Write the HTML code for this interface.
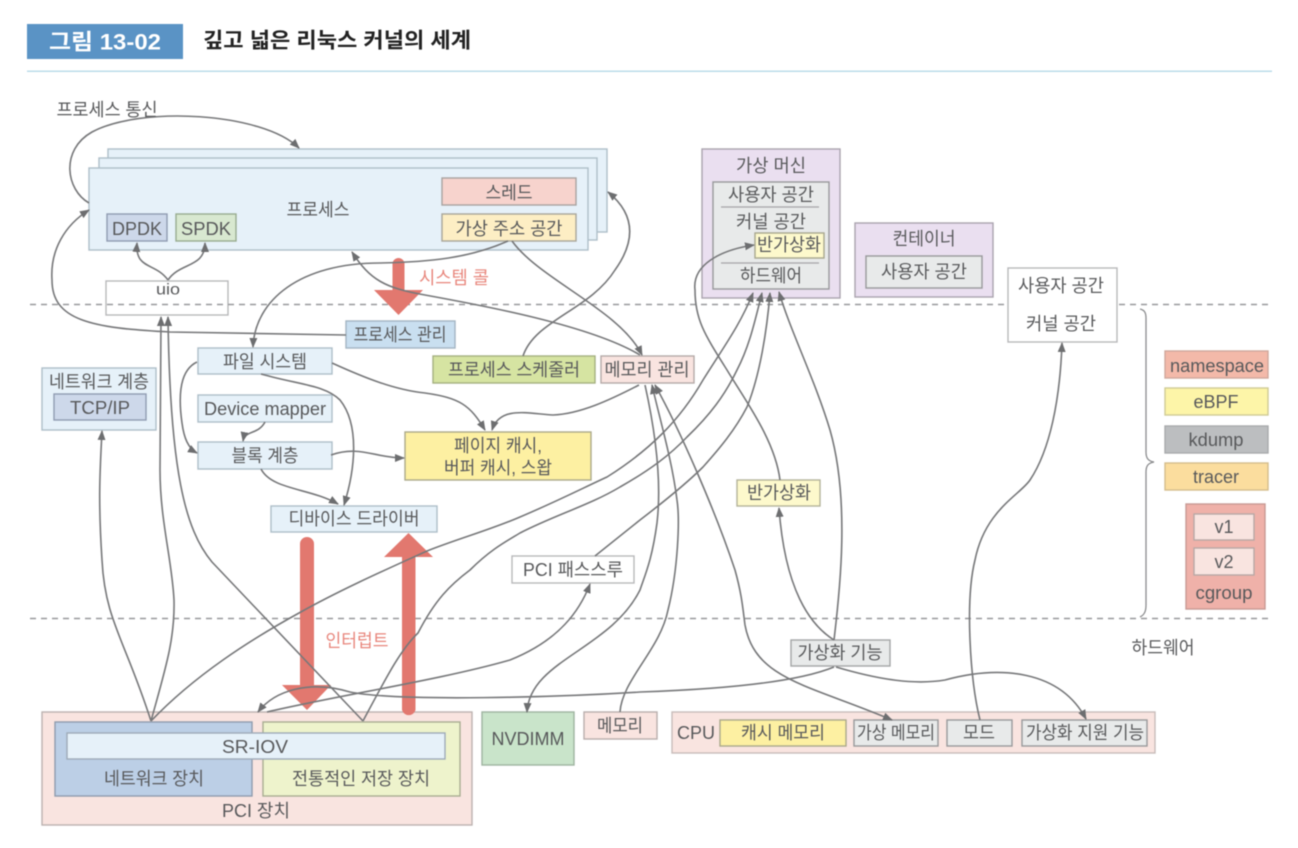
<!DOCTYPE html>
<html lang="ko"><head><meta charset="utf-8"><title>그림 13-02</title>
<style>
html,body{margin:0;padding:0;background:#fff}
svg{display:block;filter:blur(0.4px)}
text{font-family:"Liberation Sans","Noto Sans CJK KR",sans-serif;font-size:18px;fill:#58595b;text-anchor:middle;dominant-baseline:central}
.c path,path.c{fill:none;stroke:#77787a;stroke-width:1.6}
rect{stroke-width:1.4}
</style></head><body>
<svg width="1298" height="848" viewBox="0 0 1298 848" xmlns="http://www.w3.org/2000/svg">
<defs>
<marker id="a" markerUnits="userSpaceOnUse" markerWidth="11" markerHeight="11" refX="9" refY="5" orient="auto"><path d="M0,1 L10,5 L0,9 Z" fill="#6d6e70"/></marker>
<marker id="b" markerUnits="userSpaceOnUse" markerWidth="11" markerHeight="11" refX="1" refY="5" orient="auto"><path d="M10,1 L0,5 L10,9 Z" fill="#6d6e70"/></marker>
</defs>
<rect width="1298" height="848" fill="#fff" style="stroke:none"/>
<!-- header -->
<rect x="27" y="24" width="156" height="35" fill="#5a93c5" style="stroke:none"/>
<text x="105" y="42" style="font-size:22px;font-weight:bold;fill:#fff" textLength="112" lengthAdjust="spacingAndGlyphs">그림 13-02</text>
<text x="337" y="41" style="font-size:21px;font-weight:bold;fill:#222" textLength="268" lengthAdjust="spacingAndGlyphs">깊고 넓은 리눅스 커널의 세계</text>
<rect x="27" y="70.5" width="1245" height="1.5" fill="#bcdcea" style="stroke:none"/>

<!-- process stack -->
<rect x="108" y="149" width="499" height="83" fill="#e6f1f9" stroke="#aebfc9"/>
<rect x="99" y="158" width="498" height="82" fill="#e6f1f9" stroke="#aebfc9"/>
<rect x="89" y="168" width="499" height="82" fill="#e6f1f9" stroke="#aebfc9"/>
<rect x="442" y="178" width="134" height="27" fill="#f7d3cd" stroke="#a8a3a0"/>
<rect x="442" y="214" width="134" height="27" fill="#fdeec4" stroke="#a8a69a"/>
<rect x="107" y="214" width="60" height="27" fill="#cdd8ea" stroke="#909cb2"/>
<rect x="176" y="214" width="60" height="27" fill="#d8e8d0" stroke="#98ac90"/>
<rect x="106" y="281" width="122" height="34" fill="#fff" stroke="#b8b9ba"/>

<!-- dashed separators -->
<path d="M30,304.5H1268M30,618.5H1268" fill="none" stroke="#98999b" stroke-width="1.6" stroke-dasharray="6 5"/>

<!-- boxes middle -->
<rect x="346" y="321" width="109" height="27" fill="#c9dff0" stroke="#a3b5c2"/>
<rect x="198" y="348" width="134" height="26" fill="#e6f1f9" stroke="#aebfc9"/>
<rect x="433" y="356" width="162" height="27" fill="#d6e4a2" stroke="#a5b080"/>
<rect x="601" y="356" width="93" height="27" fill="#f9e4e0" stroke="#b5aaa8"/>
<rect x="42" y="368" width="114" height="62" fill="#e6f1f9" stroke="#aebfc9"/>
<rect x="54" y="394" width="92" height="26" fill="#cdd8ea" stroke="#909cb2"/>
<rect x="198" y="395" width="134" height="27" fill="#e6f1f9" stroke="#aebfc9"/>
<rect x="198" y="442" width="134" height="27" fill="#e6f1f9" stroke="#aebfc9"/>
<rect x="405" y="432" width="186" height="48" fill="#fdf0a2" stroke="#aba98a"/>
<rect x="271" y="506" width="166" height="26" fill="#e6f1f9" stroke="#aebfc9"/>
<rect x="512" y="556" width="122" height="27" fill="#fff" stroke="#b8b9ba"/>

<!-- VM / container -->
<rect x="702" y="149" width="138" height="149" fill="#eadff0" stroke="#aaa3ae"/>
<rect x="713" y="182" width="116" height="107" fill="#e8eaea" stroke="#98999b"/>
<path d="M721,207H819M721,263H819" stroke="#a4a5a6" stroke-width="1.2" fill="none"/>
<rect x="755" y="233" width="69" height="25" fill="#fdf9cc" stroke="#a8a78e"/>
<rect x="855" y="223" width="138" height="74" fill="#eadff0" stroke="#aaa3ae"/>
<rect x="866" y="256" width="116" height="32" fill="#e8eaea" stroke="#98999b"/>
<rect x="1008" y="268" width="109" height="74" fill="#fff" stroke="#b8b9ba"/>
<rect x="737" y="480" width="83" height="26" fill="#fdf9cc" stroke="#b4b39a"/>

<!-- right legend -->
<rect x="1165" y="351" width="103" height="27" fill="#f3b9a9" stroke="#d0a89c" />
<rect x="1165" y="388" width="103" height="27" fill="#fdf5a8" stroke="#cfcb96"/>
<rect x="1165" y="426" width="103" height="27" fill="#bcbec0" stroke="#a8aaac"/>
<rect x="1165" y="463" width="103" height="27" fill="#fbdd9e" stroke="#d4bd8c"/>
<rect x="1186" y="504" width="79" height="105" fill="#efb1a9" stroke="#c79a94"/>
<rect x="1194" y="514" width="60" height="26" fill="#f9e4e0" stroke="#b8a8a6"/>
<rect x="1194" y="548" width="60" height="27" fill="#f9e4e0" stroke="#b8a8a6"/>
<path d="M1140,309 C1144,310 1146,312 1146,318 V452 C1146,458 1148,461 1154,462 C1148,463 1146,466 1146,472 V605 C1146,612 1144,615 1140,617" fill="none" stroke="#8b8c8e" stroke-width="1.3"/>

<!-- bottom boxes -->
<rect x="42" y="712" width="430" height="113" fill="#f9e4e0" stroke="#bcb2b0"/>
<rect x="55" y="722" width="197" height="74" fill="#bccfe6" stroke="#8f9cae"/>
<rect x="263" y="722" width="197" height="74" fill="#eef3cc" stroke="#a9ad92"/>
<rect x="67" y="733" width="378" height="26" fill="#e6f1f9" stroke="#9eaab8"/>
<rect x="482" y="712" width="92" height="53" fill="#c9e4ca" stroke="#9fb3a0"/>
<rect x="584" y="712" width="73" height="27" fill="#f9e4e0" stroke="#b8aeac"/>
<rect x="672" y="712" width="483" height="41" fill="#f9e4e0" stroke="#c8bcba"/>
<rect x="720" y="720" width="126" height="26" fill="#fdf0a2" stroke="#aba98a"/>
<rect x="854" y="720" width="84" height="26" fill="#e8eaea" stroke="#98999b"/>
<rect x="947" y="720" width="65" height="26" fill="#e8eaea" stroke="#98999b"/>
<rect x="1022" y="720" width="125" height="26" fill="#e8eaea" stroke="#98999b"/>
<rect x="791" y="640" width="99" height="26" fill="#e8eaea" stroke="#a4a5a6"/>

<!-- red arrows -->
<g fill="#e2786f">
<path d="M392.500,264 a6,6 0 0 1 12,0 V290 H423 L398.500,315 L374,290 H392.500 Z"/>
<path d="M300,544 a7,7 0 0 1 14,0 V685 H331 L307,710 L282,685 H300 Z"/>
<path d="M402,557 H384 L408.500,533 L433,557 H415.500 V710 a7,7 0 0 1 -13.500,0 Z"/>
</g>

<!-- connectors -->
<g class="c">
<path marker-end="url(#a)" d="M89,203 C66,190 60,150 92,132 C140,106 262,112 299,148"/>
<path marker-end="url(#a)" d="M346,335 L170,332 C90,328 52,320 52,280 C50,250 65,225 89,210"/>
<path marker-end="url(#a)" d="M168,280 C155,262 135,270 137,243"/>
<path marker-end="url(#a)" d="M168,280 C180,262 205,268 205,243"/>
<path marker-end="url(#a)" d="M508,241 C470,258 430,262 380,263 C300,263 255,300 253,347"/>
<path marker-end="url(#a)" d="M512,241 C540,280 620,310 642,355"/>
<path marker-end="url(#a)" d="M640,355 C590,325 480,305 425,295 C385,288 370,280 352,252"/>
<path marker-end="url(#a)" d="M523,356 C535,320 590,310 615,270 C640,235 630,210 608,192"/>
<path marker-end="url(#a)" d="M332,363 C365,378 395,390 425,393 C460,398 470,405 485,430"/>
<path marker-end="url(#a)" d="M639,385 C610,400 580,414 553,415 C530,414 500,405 492,430"/>
<path marker-end="url(#a)" d="M197,362 C180,370 178,395 182,423 C184,438 188,448 197,453"/>
<path marker-end="url(#a)" d="M261,374 C300,385 325,385 340,400 C360,425 355,470 344,505"/>
<path marker-end="url(#a)" d="M265,422 C258,435 245,430 243,441"/>
<path marker-end="url(#a)" d="M331,455 C360,445 375,458 404,458"/>
<path marker-end="url(#a)" d="M261,469 C272,490 310,488 338,504"/>
<!-- hardware up -->
<path marker-end="url(#a)" d="M151,721 C125,640 105,620 102,560 C98,500 100,470 102,431"/>
<path marker-end="url(#a)" d="M151,721 C165,670 175,640 174,600 C172,560 160,520 160,470 L161,317"/>
<path marker-end="url(#a)" d="M151,721 C195,675 250,640 299,613 C340,590 385,570 427,551 C460,538 490,530 520,517 C560,500 585,487 607,477 C650,450 680,420 703,380 C725,345 740,325 753,293"/>
<path marker-end="url(#a)" d="M363,721 C385,680 400,650 418,633 C435,600 450,585 470,570 C490,550 505,542 520,533 C555,515 590,505 620,487 C650,470 670,455 687,437 C710,415 725,395 737,370 C750,345 755,320 762,293"/>
<path marker-end="url(#a)" d="M595,556 L640,520 C670,497 690,480 703,467 C720,448 735,430 747,407 C760,375 767,330 770,293"/>
<path marker-end="url(#a)" d="M363,721 L212,562 C185,530 170,470 168,317"/>
<path marker-end="url(#a)" d="M620,712 C622,680 660,650 668,610 C678,570 680,520 677,500 C672,460 660,420 652,385"/>
<path marker-end="url(#a)" d="M645,385 C655,430 662,480 657,523 C652,560 645,575 640,590 C610,650 530,660 527,712"/>
<path marker-start="url(#b)" marker-end="url(#a)" d="M655,385 C680,430 715,510 735,570 C742,595 743,610 745,625 C755,680 810,685 892,720"/>
<path marker-end="url(#a)" d="M834,640 C840,590 850,500 830,430 C815,380 790,330 779,292"/>
<path marker-end="url(#a)" d="M834,640 C810,625 785,590 779,508"/>
<path marker-end="url(#a)" d="M836,667 C880,680 915,685 945,680 C1000,665 1060,670 1086,719"/>
<path marker-end="url(#a)" d="M834,667 C790,685 700,690 640,692 C560,697 400,702 350,692 C310,680 275,690 258,712"/>
<path marker-end="url(#a)" d="M267,712 C340,695 440,680 510,660 C560,640 580,610 590,584"/>
<path marker-end="url(#a)" d="M780,480 C775,440 745,400 727,370 C705,335 695,320 695,290 C692,265 720,250 754,245"/>
<path marker-end="url(#a)" d="M980,720 C970,680 965,600 975,560 C985,510 1020,495 1030,480 C1050,450 1060,400 1062,343"/>
</g>

<!-- labels -->
<g transform="translate(0,1)">
<text x="107" y="109" textLength="101" lengthAdjust="spacingAndGlyphs">프로세스 통신</text>
<text x="318" y="209" textLength="63" lengthAdjust="spacingAndGlyphs">프로세스</text>
<text x="509" y="192" textLength="47" lengthAdjust="spacingAndGlyphs">스레드</text>
<text x="509" y="228" textLength="107" lengthAdjust="spacingAndGlyphs">가상 주소 공간</text>
<text x="137" y="228" textLength="50" lengthAdjust="spacingAndGlyphs">DPDK</text>
<text x="206" y="228" textLength="50" lengthAdjust="spacingAndGlyphs">SPDK</text>
<text x="168" y="289" style="font-size:16px" textLength="24" lengthAdjust="spacingAndGlyphs">uio</text>
<text x="454" y="277" style="fill:#e8867c" textLength="70" lengthAdjust="spacingAndGlyphs">시스템 콜</text>
<text x="400" y="334" textLength="93" lengthAdjust="spacingAndGlyphs">프로세스 관리</text>
<text x="265" y="361" textLength="84" lengthAdjust="spacingAndGlyphs">파일 시스템</text>
<text x="514" y="369" textLength="132" lengthAdjust="spacingAndGlyphs">프로세스 스케줄러</text>
<text x="647" y="369" textLength="85" lengthAdjust="spacingAndGlyphs">메모리 관리</text>
<text x="99" y="381" textLength="100" lengthAdjust="spacingAndGlyphs">네트워크 계층</text>
<text x="100" y="407" textLength="60" lengthAdjust="spacingAndGlyphs">TCP/IP</text>
<text x="265" y="408" textLength="122" lengthAdjust="spacingAndGlyphs">Device mapper</text>
<text x="265" y="455" textLength="67" lengthAdjust="spacingAndGlyphs">블록 계층</text>
<text x="498" y="445" textLength="88" lengthAdjust="spacingAndGlyphs">페이지 캐시,</text>
<text x="498" y="467" textLength="108" lengthAdjust="spacingAndGlyphs">버퍼 캐시, 스왑</text>
<text x="354" y="518" textLength="131" lengthAdjust="spacingAndGlyphs">디바이스 드라이버</text>
<text x="573" y="569" textLength="100" lengthAdjust="spacingAndGlyphs">PCI 패스스루</text>
<text x="357" y="640" style="fill:#e8867c" textLength="63" lengthAdjust="spacingAndGlyphs">인터럽트</text>
<text x="255" y="746" textLength="66" lengthAdjust="spacingAndGlyphs">SR-IOV</text>
<text x="154" y="778" textLength="100" lengthAdjust="spacingAndGlyphs">네트워크 장치</text>
<text x="361" y="778" textLength="138" lengthAdjust="spacingAndGlyphs">전통적인 저장 장치</text>
<text x="256" y="810" textLength="68" lengthAdjust="spacingAndGlyphs">PCI 장치</text>
<text x="528" y="738" textLength="73" lengthAdjust="spacingAndGlyphs">NVDIMM</text>
<text x="620" y="725" textLength="46" lengthAdjust="spacingAndGlyphs">메모리</text>
<text x="696" y="732" textLength="38" lengthAdjust="spacingAndGlyphs">CPU</text>
<text x="783" y="732" textLength="84" lengthAdjust="spacingAndGlyphs">캐시 메모리</text>
<text x="896" y="732" textLength="78" lengthAdjust="spacingAndGlyphs">가상 메모리</text>
<text x="979" y="732" textLength="32" lengthAdjust="spacingAndGlyphs">모드</text>
<text x="1085" y="732" textLength="118" lengthAdjust="spacingAndGlyphs">가상화 지원 기능</text>
<text x="840" y="652" textLength="85" lengthAdjust="spacingAndGlyphs">가상화 기능</text>
<text x="1163" y="647" textLength="63" lengthAdjust="spacingAndGlyphs">하드웨어</text>
<text x="771" y="165" textLength="70" lengthAdjust="spacingAndGlyphs">가상 머신</text>
<text x="771" y="194" textLength="86" lengthAdjust="spacingAndGlyphs">사용자 공간</text>
<text x="771" y="221" textLength="70" lengthAdjust="spacingAndGlyphs">커널 공간</text>
<text x="789" y="244" textLength="64" lengthAdjust="spacingAndGlyphs">반가상화</text>
<text x="771" y="275" textLength="62" lengthAdjust="spacingAndGlyphs">하드웨어</text>
<text x="924" y="238" textLength="63" lengthAdjust="spacingAndGlyphs">컨테이너</text>
<text x="924" y="271" textLength="86" lengthAdjust="spacingAndGlyphs">사용자 공간</text>
<text x="1061" y="285" textLength="86" lengthAdjust="spacingAndGlyphs">사용자 공간</text>
<text x="1061" y="323" textLength="70" lengthAdjust="spacingAndGlyphs">커널 공간</text>
<text x="779" y="492" textLength="64" lengthAdjust="spacingAndGlyphs">반가상화</text>
<text x="1217" y="365" textLength="94" lengthAdjust="spacingAndGlyphs">namespace</text>
<text x="1216" y="401" textLength="45" lengthAdjust="spacingAndGlyphs">eBPF</text>
<text x="1216" y="439" textLength="55" lengthAdjust="spacingAndGlyphs">kdump</text>
<text x="1216" y="476" textLength="46" lengthAdjust="spacingAndGlyphs">tracer</text>
<text x="1224" y="526">v1</text>
<text x="1224" y="561">v2</text>
<text x="1224" y="592" textLength="57" lengthAdjust="spacingAndGlyphs">cgroup</text>
</g>
</svg>
</body></html>
